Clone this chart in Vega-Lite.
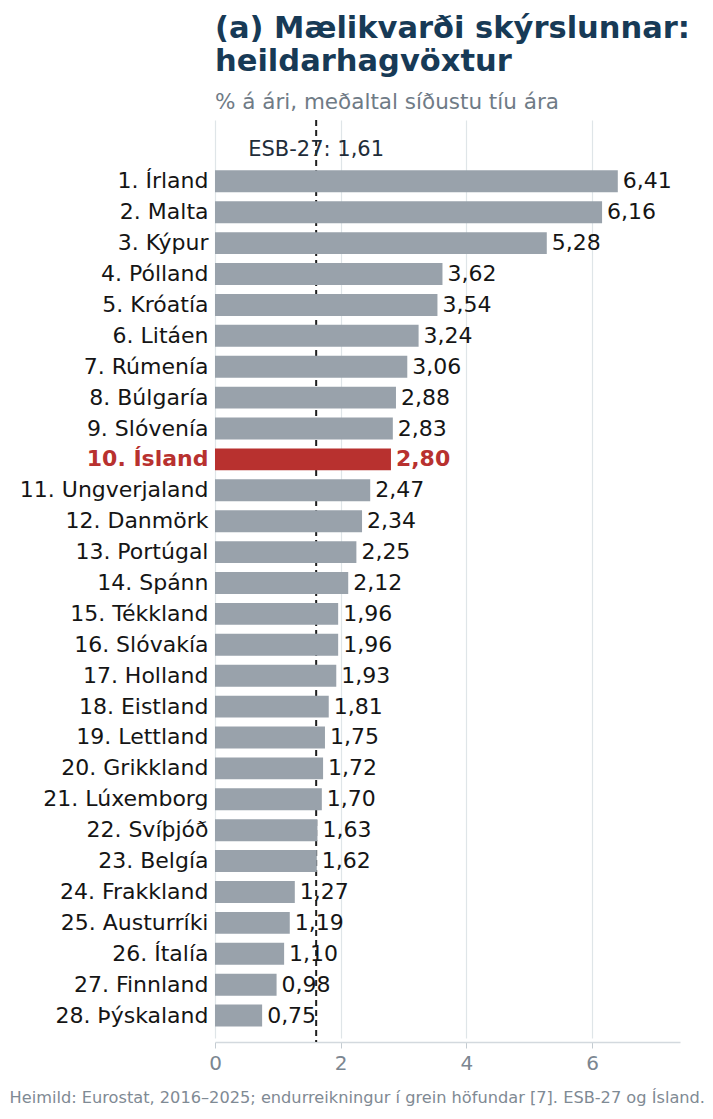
{
  "$schema": "https://vega.github.io/schema/vega-lite/v6.json",
  "autosize": {"type": "none"},
  "padding": {"left": 215, "top": 120, "right": 33, "bottom": 77},
  "width": 465,
  "height": 922,
  "config": {
    "font": "DejaVu Sans",
    "view": {"stroke": null},
    "locale": {
      "number": {"decimal": ",", "thousands": ".", "grouping": [3], "currency": ["", " kr."]}
    }
  },
  "title": {
    "text": ["(a) Mælikvarði skýrslunnar:", "heildarhagvöxtur"],
    "subtitle": "% á ári, meðaltal síðustu tíu ára",
    "anchor": "start",
    "frame": "group",
    "fontSize": 30.5,
    "fontWeight": "bold",
    "color": "#173a56",
    "lineHeight": 33,
    "subtitleFontSize": 21.5,
    "subtitleColor": "#6f7b86",
    "subtitlePadding": 14,
    "offset": 6
  },
  "datasets": {
    "growth": [
      {"land": "1. Írland", "vxt": 6.41},
      {"land": "2. Malta", "vxt": 6.16},
      {"land": "3. Kýpur", "vxt": 5.28},
      {"land": "4. Pólland", "vxt": 3.62},
      {"land": "5. Króatía", "vxt": 3.54},
      {"land": "6. Litáen", "vxt": 3.24},
      {"land": "7. Rúmenía", "vxt": 3.06},
      {"land": "8. Búlgaría", "vxt": 2.88},
      {"land": "9. Slóvenía", "vxt": 2.83},
      {"land": "10. Ísland", "vxt": 2.80},
      {"land": "11. Ungverjaland", "vxt": 2.47},
      {"land": "12. Danmörk", "vxt": 2.34},
      {"land": "13. Portúgal", "vxt": 2.25},
      {"land": "14. Spánn", "vxt": 2.12},
      {"land": "15. Tékkland", "vxt": 1.96},
      {"land": "16. Slóvakía", "vxt": 1.96},
      {"land": "17. Holland", "vxt": 1.93},
      {"land": "18. Eistland", "vxt": 1.81},
      {"land": "19. Lettland", "vxt": 1.75},
      {"land": "20. Grikkland", "vxt": 1.72},
      {"land": "21. Lúxemborg", "vxt": 1.70},
      {"land": "22. Svíþjóð", "vxt": 1.63},
      {"land": "23. Belgía", "vxt": 1.62},
      {"land": "24. Frakkland", "vxt": 1.27},
      {"land": "25. Austurríki", "vxt": 1.19},
      {"land": "26. Ítalía", "vxt": 1.10},
      {"land": "27. Finnland", "vxt": 0.98},
      {"land": "28. Þýskaland", "vxt": 0.75}
    ],
    "esb": [
      {"label": "ESB-27: 1,61", "vxt": 1.61}
    ]
  },
  "layer": [
    {
      "data": {"name": "esb"},
      "mark": {"type": "rule", "color": "#1f1f1f", "strokeWidth": 2, "strokeDash": [6, 4]},
      "encoding": {
        "x": {"field": "vxt", "type": "quantitative"}
      }
    },
    {
      "data": {"name": "growth"},
      "mark": {"type": "bar"},
      "encoding": {
        "y": {
          "field": "land",
          "type": "nominal",
          "sort": null,
          "scale": {
            "domain": [" ", "1. Írland", "2. Malta", "3. Kýpur", "4. Pólland", "5. Króatía", "6. Litáen", "7. Rúmenía", "8. Búlgaría", "9. Slóvenía", "10. Ísland", "11. Ungverjaland", "12. Danmörk", "13. Portúgal", "14. Spánn", "15. Tékkland", "16. Slóvakía", "17. Holland", "18. Eistland", "19. Lettland", "20. Grikkland", "21. Lúxemborg", "22. Svíþjóð", "23. Belgía", "24. Frakkland", "25. Austurríki", "26. Ítalía", "27. Finnland", "28. Þýskaland"],
            "range": [4, 922],
            "paddingInner": 0.29,
            "paddingOuter": 0.5
          },
          "axis": {
            "title": null,
            "ticks": false,
            "domain": false,
            "labelFontSize": 22,
            "labelPadding": 7,
            "labelLimit": 260,
            "labelColor": {"condition": {"test": "datum.value === '10. Ísland'", "value": "#b8312f"}, "value": "#151515"},
            "labelFontWeight": {"condition": {"test": "datum.value === '10. Ísland'", "value": "bold"}, "value": "normal"}
          }
        },
        "x": {
          "field": "vxt",
          "type": "quantitative",
          "scale": {"domain": [0, 7.4], "nice": false},
          "axis": {
            "values": [0, 2, 4, 6],
            "format": ".0f",
            "labelFlush": false,
            "grid": true,
            "gridColor": "#dfe5e8",
            "gridWidth": 1.2,
            "labelFontSize": 20,
            "labelColor": "#7b8691",
            "labelPadding": 5,
            "tickColor": "#c3cbd1",
            "tickSize": 6,
            "domainColor": "#d3d9de",
            "domainWidth": 1.5,
            "title": "Heimild: Eurostat, 2016–2025; endurreikningur í grein höfundar [7]. ESB-27 og Ísland.",
            "titleFontSize": 16.2,
            "titleFontWeight": "normal",
            "titleColor": "#7f8a94",
            "titleAlign": "left",
            "titleAnchor": "start",
            "titleBaseline": "middle",
            "titleX": -206,
            "titleY": 55
          }
        },
        "color": {
          "condition": {"test": "datum.land === '10. Ísland'", "value": "#b8312f"},
          "value": "#99a2ab"
        }
      }
    },
    {
      "data": {"name": "growth"},
      "transform": [{"filter": "datum.land !== '10. Ísland'"}],
      "mark": {"type": "text", "align": "left", "baseline": "middle", "dx": 5, "fontSize": 22, "color": "#151515"},
      "encoding": {
        "y": {"field": "land", "type": "nominal", "sort": null},
        "x": {"field": "vxt", "type": "quantitative"},
        "text": {"field": "vxt", "type": "quantitative", "format": ".2f"}
      }
    },
    {
      "data": {"name": "growth"},
      "transform": [{"filter": "datum.land === '10. Ísland'"}],
      "mark": {"type": "text", "align": "left", "baseline": "middle", "dx": 5, "fontSize": 22, "fontWeight": "bold", "color": "#b8312f"},
      "encoding": {
        "y": {"field": "land", "type": "nominal", "sort": null},
        "x": {"field": "vxt", "type": "quantitative"},
        "text": {"field": "vxt", "type": "quantitative", "format": ".2f"}
      }
    },
    {
      "data": {"name": "esb"},
      "mark": {"type": "text", "align": "center", "baseline": "middle", "fontSize": 21, "color": "#1f2d3a"},
      "encoding": {
        "y": {"datum": " ", "type": "nominal"},
        "x": {"field": "vxt", "type": "quantitative"},
        "text": {"field": "label"}
      }
    }
  ]
}
